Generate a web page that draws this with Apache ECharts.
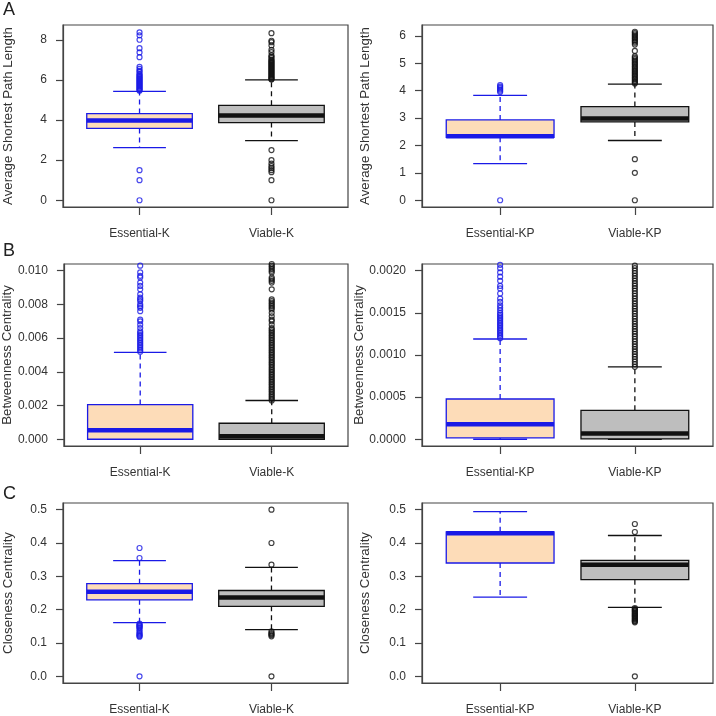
<!DOCTYPE html>
<html><head><meta charset="utf-8">
<script src="https://cdn.jsdelivr.net/npm/echarts@6/dist/echarts.min.js"></script>
<style>html,body{margin:0;padding:0;background:#fff}#c{width:716px;height:716px}</style>
</head><body><div id="c"></div>
<script>
// ---------- data ----------
const catK = ['Essential-K', 'Viable-K'];
const catKP = ['Essential-KP', 'Viable-KP'];
const panelLetters = ['A', 'B', 'C'];
const yTitles = ['Average Shortest Path Length', 'Betweenness Centrality', 'Closeness Centrality'];

// box stats: [lower whisker, Q1, median, Q3, upper whisker]
const splEssK = [2.62, 3.58, 3.97, 4.32, 5.43];
const splViaK = [2.97, 3.87, 4.22, 4.73, 6.0];
const splEssKP = [1.34, 2.30, 2.34, 2.93, 3.83];
const splViaKP = [2.18, 2.86, 2.98, 3.42, 4.24];
const btwEssK = [0, 0, 0.00054, 0.00206, 0.00516];
const btwViaK = [0, 0, 0.00018, 0.00095, 0.0023];
const btwEssKP = [0, 0.000016, 0.000178, 0.000478, 0.00119];
const btwViaKP = [0, 0.000004, 0.000068, 0.000343, 0.00086];
const cloEssK = [0.161, 0.2296, 0.2535, 0.278, 0.347];
const cloViaK = [0.140, 0.210, 0.2366, 0.2575, 0.327];
const cloEssKP = [0.2376, 0.340, 0.429, 0.4334, 0.494];
const cloViaKP = [0.2068, 0.290, 0.335, 0.348, 0.4225];

// outliers
const splEssKOut = [8.37, 8.22, 8.0, 7.58, 7.37, 7.13, 6.65, 6.55, 6.45, 6.4, 6.3, 6.25, 6.2, 6.15, 6.1, 6.05, 6.0, 5.95, 5.9, 5.85, 5.8, 5.75, 5.7, 5.65, 5.6, 5.55, 5.5, 5.46, 1.5, 1.0, 0.0];
const splViaKOut = [8.33, 7.95, 7.88, 7.72, 7.5, 7.38, 7.22, 7.15, 7.08, 7.0, 6.95, 6.9, 6.85, 6.8, 6.75, 6.7, 6.65, 6.6, 6.55, 6.5, 6.45, 6.4, 6.35, 6.3, 6.25, 6.2, 6.15, 6.1, 6.05, 6.02, 2.5, 2.0, 1.83, 1.7, 1.6, 1.5, 1.4, 1.0, 0.0];
const splEssKPOut = [4.2, 4.15, 4.1, 4.05, 4.0, 3.95, 0.0];
const splViaKPOut = [6.15, 6.1, 6.05, 6.0, 5.95, 5.9, 5.85, 5.8, 5.75, 5.68, 5.45, 5.25, 5.2, 5.15, 5.1, 5.05, 5.0, 4.95, 4.9, 4.85, 4.8, 4.75, 4.7, 4.65, 4.6, 4.55, 4.5, 4.45, 4.4, 4.35, 4.3, 4.26, 1.5, 1.0, 0.0];
const btwEssKOut = [0.0103, 0.0099, 0.0097, 0.0096, 0.0093, 0.0091, 0.0089, 0.0086, 0.0084, 0.0083, 0.0082, 0.008, 0.0079, 0.0078, 0.0076, 0.0071, 0.007, 0.0068, 0.0066, 0.0064, 0.0063, 0.0062, 0.0061, 0.006, 0.0059, 0.0058, 0.0057, 0.0056, 0.0055, 0.0054, 0.0053, 0.0052];
const btwViaKOut = [0.0023, 0.0024, 0.0025, 0.0026, 0.0027, 0.0028, 0.0029, 0.003, 0.0031, 0.0032, 0.0033, 0.0034, 0.0035, 0.0036, 0.0037, 0.0038, 0.0039, 0.004, 0.0041, 0.0042, 0.0043, 0.0044, 0.0045, 0.0046, 0.0047, 0.0048, 0.0049, 0.005, 0.0051, 0.0052, 0.0053, 0.0054, 0.0055, 0.0056, 0.0057, 0.0058, 0.0059, 0.006, 0.0061, 0.0062, 0.0063, 0.0064, 0.0065, 0.0066, 0.0068, 0.007, 0.0071, 0.0073, 0.0075, 0.0077, 0.0078, 0.0079, 0.008, 0.0081, 0.0082, 0.0083, 0.0089, 0.0093, 0.0094, 0.0095, 0.0096, 0.0099, 0.01, 0.0101, 0.0102, 0.0103, 0.0104];
const btwEssKPOut = [0.0012, 0.00122, 0.00124, 0.00126, 0.00128, 0.0013, 0.00132, 0.00134, 0.00136, 0.00138, 0.0014, 0.00142, 0.00144, 0.00146, 0.00148, 0.0015, 0.00153, 0.00156, 0.00159, 0.00163, 0.00167, 0.00173, 0.00179, 0.00182, 0.00188, 0.00193, 0.00198, 0.00203, 0.00207];
const btwViaKPOut = [0.00086, 0.00089, 0.00092, 0.00095, 0.00098, 0.00101, 0.00104, 0.00107, 0.0011, 0.00113, 0.00116, 0.00119, 0.00122, 0.00125, 0.00128, 0.00131, 0.00134, 0.00137, 0.0014, 0.00143, 0.00146, 0.00149, 0.00152, 0.00155, 0.00158, 0.00161, 0.00164, 0.00167, 0.0017, 0.00173, 0.00176, 0.00179, 0.00182, 0.00185, 0.00188, 0.00191, 0.00194, 0.00197, 0.002, 0.00203, 0.00206];
const cloEssKOut = [0.385, 0.355, 0.158, 0.155, 0.152, 0.15, 0.147, 0.145, 0.14, 0.135, 0.13, 0.127, 0.124, 0.121, 0.119, 0.0];
const cloViaKOut = [0.5, 0.4, 0.335, 0.135, 0.13, 0.127, 0.124, 0.12, 0.0];
const cloEssKPOut = [];
const cloViaKPOut = [0.457, 0.433, 0.205, 0.202, 0.2, 0.197, 0.195, 0.192, 0.19, 0.187, 0.185, 0.182, 0.18, 0.177, 0.175, 0.172, 0.17, 0.167, 0.165, 0.162, 0.0];

// tick labels
const splTicksK = [0, 2, 4, 6, 8];
const splTicksKP = [0, 1, 2, 3, 4, 5, 6];
const btwTicksK = [0, 0.002, 0.004, 0.006, 0.008, 0.010];
const btwTicksKP = [0, 0.0005, 0.0010, 0.0015, 0.0020];
const cloTicks = [0, 0.1, 0.2, 0.3, 0.4, 0.5];

// ---------- styling ----------
const FONT = '"Liberation Sans", Arial, Helvetica, sans-serif';
const TXT = '#333';
const AX = '#444';
const BLUE = '#1a1ae6';
const BLACK = '#111';
const PEACH = '#fddcb8';
const GRAY = '#bebebe';

const panels = [
  {cats: catK, ess: splEssK, via: splViaK, essOut: splEssKOut, viaOut: splViaKOut, ticks: splTicksK, dec: 0, yMin: -0.336, yMax: 8.736, title: yTitles[0], grid: {left: 63, top: 25, width: 285, height: 182}, gap: 48},
  {cats: catKP, ess: splEssKP, via: splViaKP, essOut: splEssKPOut, viaOut: splViaKPOut, ticks: splTicksKP, dec: 0, yMin: -0.246, yMax: 6.396, title: yTitles[0], grid: {left: 422, top: 25, width: 291, height: 182}, gap: 50},
  {cats: catK, ess: btwEssK, via: btwViaK, essOut: btwEssKOut, viaOut: btwViaKOut, ticks: btwTicksK, dec: 3, yMin: -0.0004, yMax: 0.0104, title: yTitles[1], grid: {left: 63, top: 264, width: 285, height: 182}, gap: 48},
  {cats: catKP, ess: btwEssKP, via: btwViaKP, essOut: btwEssKPOut, viaOut: btwViaKPOut, ticks: btwTicksKP, dec: 4, yMin: -0.00008, yMax: 0.00208, title: yTitles[1], grid: {left: 422, top: 264, width: 291, height: 182}, gap: 55},
  {cats: catK, ess: cloEssK, via: cloViaK, essOut: cloEssKOut, viaOut: cloViaKOut, ticks: cloTicks, dec: 1, yMin: -0.02, yMax: 0.52, title: yTitles[2], grid: {left: 63, top: 503, width: 285, height: 181}, gap: 48},
  {cats: catKP, ess: cloEssKP, via: cloViaKP, essOut: cloEssKPOut, viaOut: cloViaKPOut, ticks: cloTicks, dec: 1, yMin: -0.02, yMax: 0.52, title: yTitles[2], grid: {left: 422, top: 503, width: 291, height: 181}, gap: 50}
];

function renderBox(params, api) {
  const x = api.value(0);
  const lw = api.value(1), q1 = api.value(2), md = api.value(3), q3 = api.value(4), uw = api.value(5);
  const idx = params.dataIndex;
  const stroke = idx === 0 ? BLUE : BLACK;
  const fill = idx === 0 ? PEACH : GRAY;
  const half = api.size([0.8, 0])[0] / 2;
  const cap = half / 2;
  const pLw = api.coord([x, lw]), pQ1 = api.coord([x, q1]), pMd = api.coord([x, md]), pQ3 = api.coord([x, q3]), pUw = api.coord([x, uw]);
  const cx = pMd[0];
  const dash = {stroke: stroke, lineWidth: 1.3, lineDash: [5, 4]};
  const solid = {stroke: stroke, lineWidth: 1.3};
  return {type: 'group', children: [
    {type: 'line', shape: {x1: cx, y1: pQ3[1], x2: cx, y2: pUw[1]}, style: dash},
    {type: 'line', shape: {x1: cx, y1: pQ1[1], x2: cx, y2: pLw[1]}, style: dash},
    {type: 'line', shape: {x1: cx - cap, y1: pUw[1], x2: cx + cap, y2: pUw[1]}, style: solid},
    {type: 'line', shape: {x1: cx - cap, y1: pLw[1], x2: cx + cap, y2: pLw[1]}, style: solid},
    {type: 'rect', shape: {x: cx - half, y: pQ3[1], width: 2 * half, height: pQ1[1] - pQ3[1]}, style: {fill: fill, stroke: stroke, lineWidth: 1.3}},
    {type: 'line', shape: {x1: cx - half, y1: pMd[1], x2: cx + half, y2: pMd[1]}, style: {stroke: stroke, lineWidth: 4.5}}
  ]};
}

const grids = [], xAxes = [], yAxes = [], series = [];
panels.forEach((p, i) => {
  grids.push(Object.assign({show: true, borderColor: AX, borderWidth: 1.2, backgroundColor: 'transparent'}, p.grid));
  xAxes.push({
    type: 'value', gridIndex: i, min: 0.42, max: 2.58, splitLine: {show: false},
    axisLine: {show: true, onZero: false, lineStyle: {color: AX, width: 1.2}},
    axisTick: {show: true, length: 8, customValues: [1, 2], lineStyle: {color: AX, width: 1.2}},
    axisLabel: {customValues: [1, 2], margin: 21, fontSize: 12, fontFamily: FONT, color: TXT,
      formatter: (v) => p.cats[Math.round(v) - 1] || ''}
  });
  yAxes.push({
    type: 'value', gridIndex: i, min: p.yMin, max: p.yMax, splitLine: {show: false},
    name: p.title, nameLocation: 'middle', nameRotate: 90, nameGap: p.gap,
    nameTextStyle: {fontSize: 13.3, fontFamily: FONT, color: TXT},
    axisLine: {show: true, onZero: false, lineStyle: {color: AX, width: 1.2}},
    axisTick: {show: true, length: 7, customValues: p.ticks, lineStyle: {color: AX, width: 1.2}},
    axisLabel: {customValues: p.ticks, margin: 16, fontSize: 12, fontFamily: FONT, color: TXT,
      formatter: (v) => Number(v).toFixed(p.dec)}
  });
  series.push({
    type: 'custom', xAxisIndex: i, yAxisIndex: i, clip: true, renderItem: renderBox,
    data: [[1].concat(p.ess), [2].concat(p.via)], z: 2
  });
  series.push({
    type: 'scatter', xAxisIndex: i, yAxisIndex: i, clip: true, symbol: 'circle', symbolSize: 5, z: 3,
    itemStyle: {color: 'rgba(0,0,0,0)', borderColor: BLUE, borderWidth: 1.2},
    data: p.essOut.map(v => [1, v])
  });
  series.push({
    type: 'scatter', xAxisIndex: i, yAxisIndex: i, clip: true, symbol: 'circle', symbolSize: 5, z: 3,
    itemStyle: {color: 'rgba(0,0,0,0)', borderColor: BLACK, borderWidth: 1.2},
    data: p.viaOut.map(v => [2, v])
  });
});

const letterPos = [[3, 1], [3, 242], [3, 485]];
const graphics = panelLetters.map((L, i) => ({
  type: 'text', left: letterPos[i][0], top: letterPos[i][1],
  style: {text: L, font: '18px ' + FONT, fill: '#222'}
}));

const chart = echarts.init(document.getElementById('c'), null, {renderer: 'canvas'});
chart.setOption({
  animation: false,
  backgroundColor: '#fff',
  grid: grids, xAxis: xAxes, yAxis: yAxes, series: series,
  graphic: graphics,
  tooltip: {show: false}
});
</script></body></html>
